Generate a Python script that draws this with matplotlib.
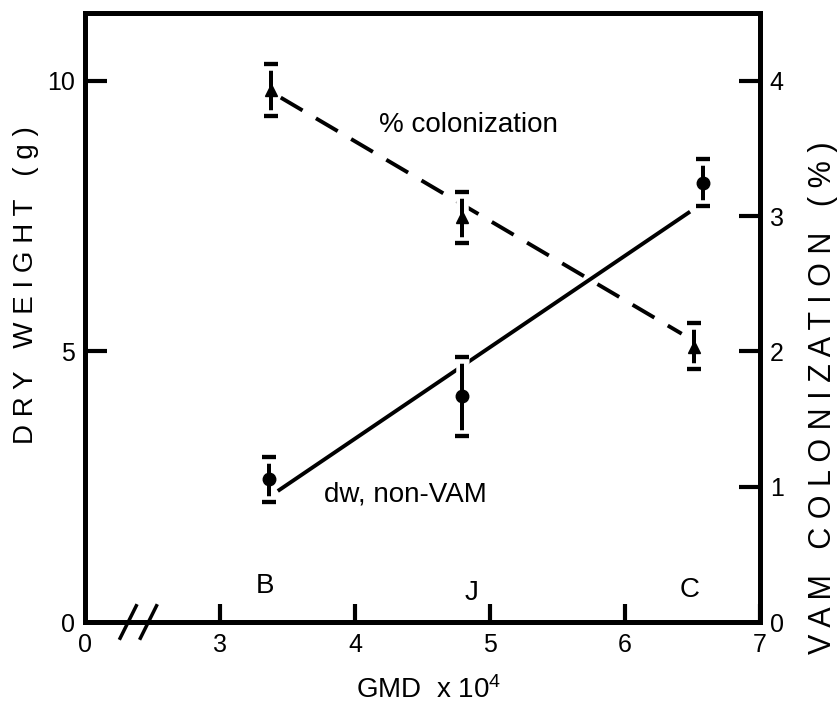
import matplotlib
matplotlib.use('Agg')
import matplotlib.pyplot as plt
import matplotlib.patheffects as pe

plt.rcParams['font.family'] = ['Liberation Sans', 'DejaVu Sans']
plt.rcParams['mathtext.default'] = 'regular'

# dry weight (g), non-VAM, left axis
dw_x = [3.36, 4.79, 6.58]
dw_y = [2.64, 4.18, 8.11]
dw_lo = [2.22, 3.44, 7.69]
dw_hi = [3.05, 4.90, 8.56]
dw_fit_x = [3.44, 6.47]
dw_fit_y = [2.44, 7.56]

# VAM colonization (%), right axis
col_x = [3.38, 4.79, 6.51]
col_y = [3.93, 2.99, 2.03]
col_lo = [3.74, 2.80, 1.87]
col_hi = [4.12, 3.18, 2.21]
col_fit_x = [3.45, 6.42]
col_fit_y = [3.875, 2.13]

# soil sites
site_names = ['B', 'J', 'C']
site_x = [3.33, 4.86, 6.48]
site_y = [0.67, 0.54, 0.59]

x_ticks = [2, 3, 4, 5, 6, 7]
x_ticklabels = ['0', '3', '4', '5', '6', '7']
left_ticks = [0, 5, 10]
right_ticks = [0, 1, 2, 3, 4]

FS = 20
TFS = 18
LW = 2.8

fig = plt.figure(figsize=(8.38, 7.04), dpi=100)
ax = fig.add_axes([85 / 838, 1 - 622 / 704, 675 / 838, 609 / 704])
ax2 = ax.twinx()

ax.set_xlim(2, 7)
ax.set_ylim(0, 11.25)
ax2.set_ylim(0, 4.5)

for a in (ax, ax2):
    for s in a.spines.values():
        s.set_linewidth(3.5)

ax.set_xticks(x_ticks)
ax.set_xticklabels(x_ticklabels)
ax.set_yticks(left_ticks)
ax2.set_yticks(right_ticks)
ax.tick_params(axis='x', direction='in', length=13, width=3, pad=8, labelsize=TFS)
ax.tick_params(axis='y', direction='in', length=16, width=3, pad=7, labelsize=TFS)
ax2.tick_params(axis='y', direction='in', length=15, width=3, pad=7, labelsize=TFS)
# no tick mark at the broken origin
ax.xaxis.get_major_ticks()[0].tick1line.set_visible(False)
ax.yaxis.get_major_ticks()[0].tick1line.set_visible(False)
ax2.yaxis.get_major_ticks()[0].tick2line.set_visible(False)

halo = [pe.withStroke(linewidth=9, foreground='white'), pe.Normal()]

# fitted lines
ax.plot(dw_fit_x, dw_fit_y, '-', color='black', lw=LW, zorder=2)
ax2.plot(col_fit_x, col_fit_y, color='black', lw=LW, linestyle=(0, (6.5, 4)), zorder=2)

# means with error bars
err = ax.errorbar(dw_x, dw_y, yerr=[[m - lo for m, lo in zip(dw_y, dw_lo)],
                                    [hi - m for m, hi in zip(dw_y, dw_hi)]],
                  fmt='o', color='black', ms=9, elinewidth=2.8, capsize=5,
                  capthick=3, zorder=4)
for c in list(err[1]) + list(err[2]):
    c.set_path_effects(halo)

err2 = ax2.errorbar(col_x, col_y, yerr=[[m - lo for m, lo in zip(col_y, col_lo)],
                                        [hi - m for m, hi in zip(col_y, col_hi)]],
                    fmt='^', color='black', ms=9, elinewidth=2.8, capsize=5,
                    capthick=3, zorder=4)
for c in list(err2[1]) + list(err2[2]):
    c.set_path_effects(halo)

# axis break on x
for xb in (2.32, 2.47):
    ax.plot([xb - 0.06, xb + 0.06], [-0.3, 0.3], color='black', lw=2.5,
            clip_on=False, zorder=5)

ax.text(4.84, 9.19, '% colonization', fontsize=FS, ha='center', va='center')
ax.text(4.37, 2.35, 'dw, non-VAM', fontsize=FS, ha='center', va='center')
for name, sx, sy in zip(site_names, site_x, site_y):
    ax.text(sx, sy, name, fontsize=FS, ha='center', va='center')

fig.text(429 / 838, 1 - 690 / 704, 'GMD  x 10$^{4}$', fontsize=FS,
         ha='center', va='center')
fig.text(26 / 838, 1 - 285 / 704, 'D R Y   W E I G H T   ( g )', fontsize=20,
         rotation=90, ha='center', va='center')
fig.text(823 / 838, 1 - 398 / 704, 'V A M   C O L O N I Z A T I O N   ( % )',
         fontsize=22, rotation=90, ha='center', va='center')

fig.savefig('out.png', dpi=100)
